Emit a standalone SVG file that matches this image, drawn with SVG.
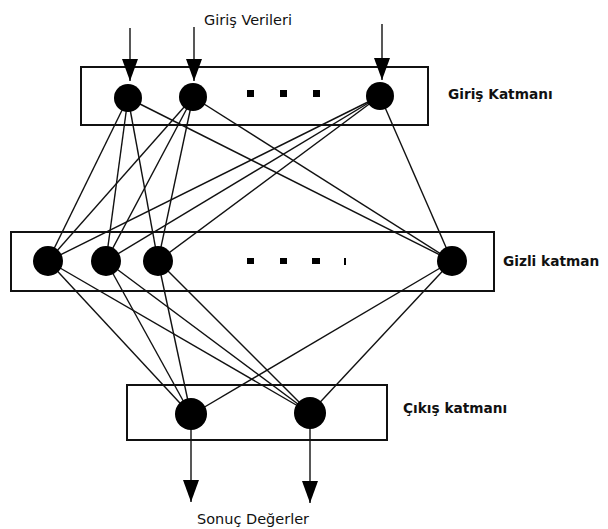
<svg xmlns="http://www.w3.org/2000/svg" width="608" height="529" viewBox="0 0 608 529">
<style>
.box{fill:none;stroke:#111;stroke-width:2}
.n{fill:#000}
.c line{stroke:#111;stroke-width:1.4}
.lbl{font-family:"DejaVu Sans",Verdana,sans-serif;fill:#111}
.b{font-weight:bold;font-size:13.7px}
.ar{stroke:#111;stroke-width:1.4}
</style>
<defs>
<marker id="ah" markerWidth="24" markerHeight="16" refX="22" refY="8" orient="auto" markerUnits="userSpaceOnUse" viewBox="0 0 24 16">
<path d="M0,0 L22,8 L0,16 Z" fill="#000"/>
</marker>
</defs>
<rect width="608" height="529" fill="#fff"/>
<g id="boxes">
<rect class="box" x="81" y="67" width="347" height="58"/>
<rect class="box" x="11" y="232" width="483" height="59"/>
<rect class="box" x="127" y="385" width="260" height="55"/>
</g>
<g class="c" id="connectors">
<line x1="128" y1="98" x2="48" y2="261"/>
<line x1="128" y1="98" x2="106" y2="261"/>
<line x1="128" y1="98" x2="158" y2="261"/>
<line x1="128" y1="98" x2="452" y2="261"/>
<line x1="193" y1="97" x2="48" y2="261"/>
<line x1="193" y1="97" x2="106" y2="261"/>
<line x1="193" y1="97" x2="158" y2="261"/>
<line x1="193" y1="97" x2="452" y2="261"/>
<line x1="380" y1="96" x2="48" y2="261"/>
<line x1="380" y1="96" x2="106" y2="261"/>
<line x1="380" y1="96" x2="158" y2="261"/>
<line x1="380" y1="96" x2="452" y2="261"/>
<line x1="48" y1="261" x2="191" y2="415"/>
<line x1="48" y1="261" x2="310" y2="413"/>
<line x1="106" y1="261" x2="191" y2="415"/>
<line x1="106" y1="261" x2="310" y2="413"/>
<line x1="158" y1="261" x2="191" y2="415"/>
<line x1="158" y1="261" x2="310" y2="413"/>
<line x1="452" y1="261" x2="191" y2="415"/>
<line x1="452" y1="261" x2="310" y2="413"/>
<line class="ar" x1="130" y1="28" x2="130" y2="81" marker-end="url(#ah)"/>
<line class="ar" x1="194" y1="27" x2="194" y2="81" marker-end="url(#ah)"/>
<line class="ar" x1="382" y1="24" x2="382" y2="80" marker-end="url(#ah)"/>
<line class="ar" x1="191" y1="415" x2="191" y2="502" marker-end="url(#ah)"/>
<line class="ar" x1="310" y1="413" x2="310" y2="503" marker-end="url(#ah)"/>
</g>
<g id="input-layer">
<circle class="n" cx="128" cy="98" r="14"/>
<circle class="n" cx="193" cy="97" r="14"/>
<circle class="n" cx="380" cy="96" r="14"/>
<rect class="n" x="247" y="90" width="7" height="7"/>
<rect class="n" x="280" y="90" width="7" height="7"/>
<rect class="n" x="313" y="90" width="7" height="7"/>
</g>
<g id="hidden-layer">
<circle class="n" cx="48" cy="261" r="15"/>
<circle class="n" cx="106" cy="261" r="15"/>
<circle class="n" cx="158" cy="261" r="15"/>
<circle class="n" cx="452" cy="261" r="15"/>
<rect class="n" x="247" y="258" width="7" height="6"/>
<rect class="n" x="280" y="258" width="7" height="6"/>
<rect class="n" x="312" y="258" width="8" height="6"/>
<rect class="n" x="344" y="258" width="2" height="7"/>
</g>
<g id="output-layer">
<circle class="n" cx="191" cy="414" r="16"/>
<circle class="n" cx="310" cy="413" r="16"/>
</g>
<g id="labels">
<text class="lbl" x="248" y="25" text-anchor="middle" font-size="14.5">Giriş Verileri</text>
<text class="lbl b" x="448" y="99">Giriş Katmanı</text>
<text class="lbl b" x="503" y="266">Gizli katman</text>
<text class="lbl b" x="403" y="413">Çıkış katmanı</text>
<text class="lbl" x="253" y="524" text-anchor="middle" font-size="14.5">Sonuç Değerler</text>
</g>
</svg>
